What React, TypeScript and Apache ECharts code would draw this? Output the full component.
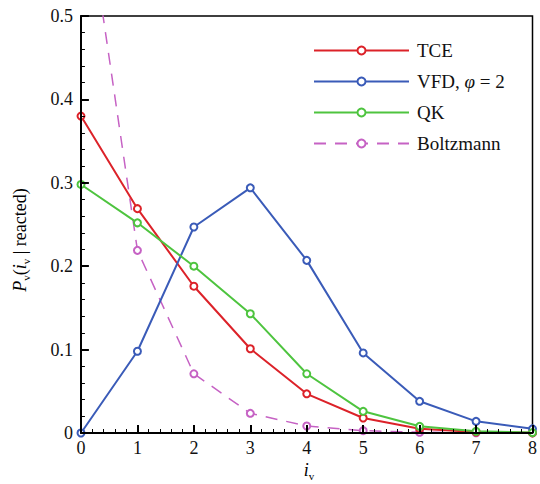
import React, { useEffect, useRef } from "react";
import * as echarts from "echarts";

// Vibrational level index i_v
const levels = [0, 1, 2, 3, 4, 5, 6, 7, 8];

// P_v(i_v | reacted) for each model
const tceValues = [0.38, 0.269, 0.176, 0.101, 0.047, 0.018, 0.005, 0.0012, 0.0002];
const vfdValues = [0.0, 0.098, 0.247, 0.294, 0.207, 0.096, 0.038, 0.014, 0.005];
const qkValues = [0.298, 0.252, 0.2, 0.143, 0.071, 0.026, 0.008, 0.002, 0.0005];
const boltzmannValues = [0.68, 0.219, 0.071, 0.0236, 0.0084, 0.0028, 0.0009, 0.0003, 0.0001];

const seriesNames = ["TCE", "VFD, φ = 2", "QK", "Boltzmann"];
const xTicks = { min: 0, max: 8, step: 1 };
const yTicks = { min: 0, max: 0.5, step: 0.1 };
const minorDivisions = 5;

const SERIF = "Times New Roman, Liberation Serif, DejaVu Serif, Noto Serif, serif";

const W = 540;
const H = 484;
const GRID = { left: 81, top: 16, right: 2, bottom: 51 };

// Tick positions along an axis: [value, isMajor]
function tickList(t: { min: number; max: number; step: number }) {
  const out: [number, boolean][] = [];
  const n = Math.round((t.max - t.min) / t.step) * minorDivisions;
  for (let k = 0; k <= n; k++) {
    const v = t.min + (k * t.step) / minorDivisions;
    out.push([v, k % minorDivisions === 0]);
  }
  return out;
}

export default function App() {
  const ref = useRef<HTMLDivElement>(null);

  useEffect(() => {
    if (!ref.current) return;
    document.body.style.margin = "0";
    const chart = echarts.init(ref.current, undefined, { renderer: "svg" });

    const pair = (vals: number[]) => levels.map((x, i) => [x, vals[i]]);

    // pixel -> data-unit conversion for inward tick lengths
    const plotW = W - GRID.left - GRID.right;
    const plotH = H - GRID.top - GRID.bottom;
    const xUnit = (xTicks.max - xTicks.min) / plotW;
    const yUnit = (yTicks.max - yTicks.min) / plotH;

    const tickLine = (major: boolean) => ({
      lineStyle: { color: "#000", width: major ? 2 : 1, type: "solid" },
    });

    const tickMarks: any[] = [];
    tickList(xTicks).forEach(([v, major]) => {
      const len = (major ? 8 : 4) * yUnit;
      tickMarks.push([
        { coord: [v, yTicks.min], ...tickLine(major) },
        { coord: [v, yTicks.min + len] },
      ]);
    });
    tickList(yTicks).forEach(([v, major]) => {
      const len = (major ? 8 : 4) * xUnit;
      tickMarks.push([
        { coord: [xTicks.min, v], ...tickLine(major) },
        { coord: [xTicks.min + len, v] },
      ]);
    });

    const mkSeries = (name: string, vals: number[], color: string, dashed: boolean) => ({
      name,
      type: "line",
      data: pair(vals),
      symbol: "emptyCircle",
      symbolSize: 7,
      showSymbol: true,
      clip: true,
      lineStyle: {
        color,
        width: dashed ? 1.5 : 2,
        type: dashed ? [12, 9] : "solid",
      },
      itemStyle: { color, borderColor: color, borderWidth: 1 },
      emphasis: { disabled: true },
      z: dashed ? 2 : 3,
    });

    const axisCommon = {
      axisLine: { show: true, onZero: false, lineStyle: { color: "#000", width: 2 } },
      axisTick: { show: false },
      minorTick: { show: false },
      splitLine: { show: false },
      axisLabel: { color: "#111", fontFamily: SERIF, fontSize: 18 },
      z: 5,
    };

    const sub = { fontFamily: SERIF, fontSize: 11, color: "#111", verticalAlign: "bottom", lineHeight: 20 };
    const ital = { fontFamily: SERIF, fontSize: 18, fontStyle: "italic", color: "#111", lineHeight: 22 };
    const norm = { fontFamily: SERIF, fontSize: 18, color: "#111", lineHeight: 22 };

    const tce = mkSeries(seriesNames[0], tceValues, "#dc2229", false) as any;
    tce.markLine = {
      silent: true,
      symbol: ["none", "none"],
      label: { show: false },
      animation: false,
      z: 6,
      data: tickMarks,
    };

    chart.setOption({
      animation: false,
      backgroundColor: "#fff",
      grid: {
        ...GRID,
        show: true,
        borderColor: "#000",
        borderWidth: 1.5,
        backgroundColor: "transparent",
      },
      xAxis: {
        type: "value",
        min: xTicks.min,
        max: xTicks.max,
        interval: xTicks.step,
        ...axisCommon,
        axisLabel: { ...axisCommon.axisLabel, margin: 6 },
      },
      yAxis: {
        type: "value",
        min: yTicks.min,
        max: yTicks.max,
        interval: yTicks.step,
        ...axisCommon,
        axisLabel: {
          ...axisCommon.axisLabel,
          margin: 8,
          formatter: (v: number) => (v === 0 ? "0" : v.toFixed(1)),
        },
      },
      legend: {
        show: true,
        orient: "vertical",
        left: 308,
        top: 36,
        itemWidth: 95,
        itemHeight: 10,
        itemGap: 12,
        data: seriesNames,
        formatter: (name: string) =>
          name === "VFD, φ = 2" ? "{n|VFD, }{i|φ}{n| = 2}" : `{n|${name}}`,
        textStyle: {
          fontFamily: SERIF,
          fontSize: 19,
          color: "#111",
          lineHeight: 18,
          padding: [0, 0, 0, 3],
          rich: {
            n: { fontFamily: SERIF, fontSize: 19, color: "#111" },
            i: { fontFamily: SERIF, fontSize: 19, fontStyle: "italic", color: "#111" },
          },
        },
      },
      graphic: [
        {
          type: "text",
          x: 309,
          y: 470,
          style: {
            text: "{i|i}{s|v}",
            rich: { i: ital, s: sub },
            align: "center",
            verticalAlign: "middle",
          },
        },
        {
          type: "text",
          x: 20,
          y: 240,
          rotation: Math.PI / 2,
          style: {
            text: "{i|P}{s|v}{n|(}{i|i}{s|v}{n| | reacted)}",
            rich: { i: ital, s: sub, n: norm },
            align: "center",
            verticalAlign: "middle",
          },
        },
      ],
      series: [
        tce,
        mkSeries(seriesNames[1], vfdValues, "#3a5bb8", false),
        mkSeries(seriesNames[2], qkValues, "#4ec43f", false),
        mkSeries(seriesNames[3], boltzmannValues, "#c662c4", true),
      ],
    });

    return () => chart.dispose();
  }, []);

  return <div ref={ref} style={{ width: W, height: H }} />;
}
